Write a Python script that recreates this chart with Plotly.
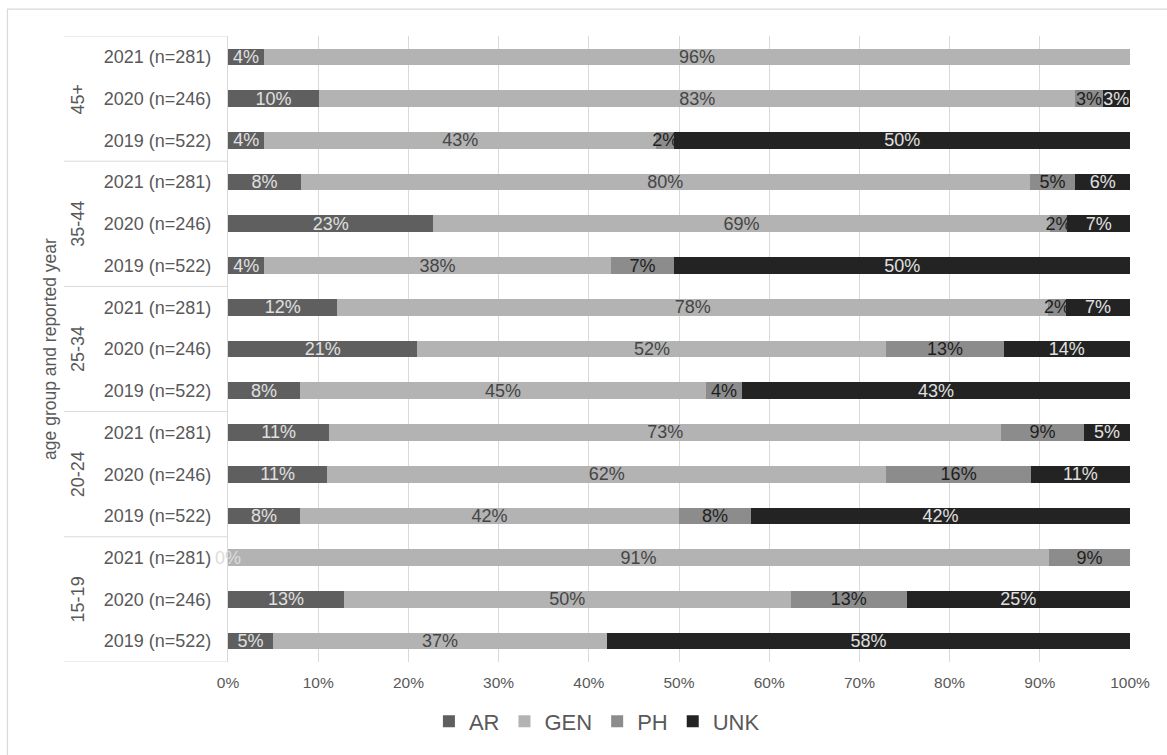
import plotly.graph_objects as go

# Rows are listed bottom-up: each age group holds its three reporting years
age_groups = ["15-19", "20-24", "25-34", "35-44", "45+"]
year_labels = ["2019 (n=522)", "2020 (n=246)", "2021 (n=281)"]

# Share (%) of each category per age group and year; None = no cases reported
ar = [5, 13, 0, 8, 11, 11, 8, 21, 12, 4, 23, 8, 4, 10, 4]
gen = [37, 50, 91, 42, 62, 73, 45, 52, 78, 38, 69, 80, 43, 83, 96]
ph = [None, 13, 9, 8, 16, 9, 4, 13, 2, 7, 2, 5, 2, 3, None]
unk = [58, 25, None, 42, 11, 5, 43, 14, 7, 50, 7, 6, 50, 3, None]

series = [
    ("AR", ar, "#5f5f5f", "#e0e0e0"),
    ("GEN", gen, "#b3b3b3", "#454545"),
    ("PH", ph, "#8c8c8c", "#1e1e1e"),
    ("UNK", unk, "#232323", "#e0e0e0"),
]

FONT = "Liberation Sans, Arial, sans-serif"
GRID = "#d9d9d9"
LABEL = "#595959"

n_rows = len(age_groups) * len(year_labels)
rows = list(range(n_rows))
tick_text = [year_labels[i % len(year_labels)] for i in rows]

fig = go.Figure()
for name, vals, color, txtcolor in series:
    fig.add_trace(go.Bar(
        name=name,
        y=rows,
        x=vals,
        orientation="h",
        marker=dict(color=color, line=dict(width=0)),
        text=["" if v is None else f"{v}%" for v in vals],
        texttemplate="%{text}",
        textposition="inside",
        insidetextanchor="middle",
        textangle=0,
        constraintext="none",
        insidetextfont=dict(family=FONT, size=18, color=txtcolor),
        hoverinfo="skip",
    ))

annotations = []
# zero-width AR segments still carry their label at the axis origin
for i, v in enumerate(ar):
    if v == 0:
        annotations.append(dict(
            x=0, y=i, xref="x", yref="y", text=f"{v}%", showarrow=False,
            font=dict(family=FONT, size=18, color="#dcdcdc"),
            xanchor="center", yanchor="middle",
        ))

# Rotated age-group labels, centred on their block of three rows
n_years = len(year_labels)
for g, label in enumerate(age_groups):
    annotations.append(dict(
        x=-0.1663, y=g * n_years + (n_years - 1) / 2, xref="paper", yref="y",
        text=label, textangle=-90, showarrow=False,
        font=dict(family=FONT, size=18, color=LABEL),
        xanchor="center", yanchor="middle",
    ))

shapes = []
# Divider lines between age groups in the label column
for g in range(len(age_groups) + 1):
    yy = g * n_years - 0.5
    shapes.append(dict(
        type="line", xref="paper", yref="y", x0=-0.1818, x1=0, y0=yy, y1=yy,
        line=dict(color=GRID, width=1),
    ))
# Chart-area frame
shapes.append(dict(
    type="rect", xref="paper", yref="paper",
    x0=-0.2445, x1=1.08, y0=-0.16, y1=1.0429,
    line=dict(color=GRID, width=1.2), fillcolor="rgba(0,0,0,0)", layer="below",
))

fig.update_layout(
    width=1167,
    height=755,
    barmode="stack",
    barnorm="percent",
    bargap=0.6,
    plot_bgcolor="white",
    paper_bgcolor="white",
    margin=dict(l=228, r=37, t=36, b=89),
    font=dict(family=FONT, color=LABEL),
    showlegend=True,
    legend=dict(
        orientation="h", x=0.409, xanchor="center", y=-0.095, yanchor="middle",
        font=dict(family=FONT, size=22, color=LABEL),
        itemwidth=30, traceorder="normal",
    ),
    xaxis=dict(
        range=[0, 100], dtick=10, ticksuffix="%",
        showgrid=True, gridcolor=GRID, gridwidth=1.2,
        zeroline=False, showline=False, ticks="",
        tickfont=dict(family=FONT, size=15.5, color=LABEL),
        ticklabelstandoff=9, automargin=False, fixedrange=True,
    ),
    yaxis=dict(
        range=[-0.5, n_rows - 0.5],
        tickmode="array", tickvals=rows, ticktext=tick_text,
        showgrid=False, zeroline=False,
        showline=True, linecolor=GRID, linewidth=1.2,
        ticks="", ticklabelstandoff=12, automargin=False,
        tickfont=dict(family=FONT, size=18, color=LABEL),
        title=dict(text="age group and reported year", standoff=42,
                   font=dict(family=FONT, size=17.5, color=LABEL)),
        fixedrange=True,
    ),
    annotations=annotations,
    shapes=shapes,
)

fig.write_html("out.html")
